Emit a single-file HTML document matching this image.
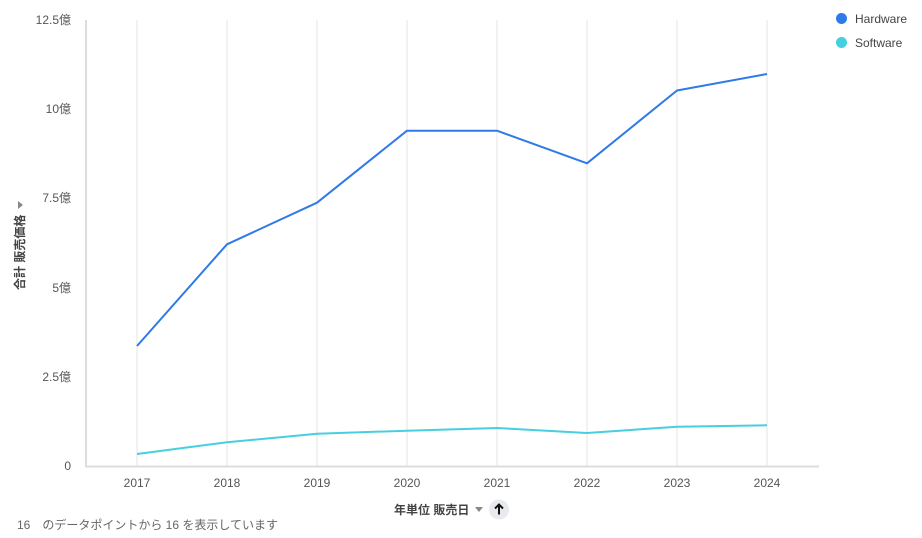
<!DOCTYPE html>
<html>
<head>
<meta charset="utf-8">
<style>
  html, body { margin: 0; padding: 0; background: #ffffff; }
  body { width: 922px; height: 538px; overflow: hidden; position: relative;
         font-family: "Liberation Sans", "Noto Sans CJK JP", sans-serif; }
  svg { position: absolute; left: 0; top: 0; }
  text { font-family: "Liberation Sans", "Noto Sans CJK JP", sans-serif; }
</style>
</head>
<body>
<svg width="922" height="538" viewBox="0 0 922 538" xmlns="http://www.w3.org/2000/svg">
  <!-- vertical gridlines -->
  <g stroke="#e4e4e4" stroke-width="1">
    <line x1="137" y1="20" x2="137" y2="466"/>
    <line x1="227" y1="20" x2="227" y2="466"/>
    <line x1="317" y1="20" x2="317" y2="466"/>
    <line x1="407" y1="20" x2="407" y2="466"/>
    <line x1="497" y1="20" x2="497" y2="466"/>
    <line x1="587" y1="20" x2="587" y2="466"/>
    <line x1="677" y1="20" x2="677" y2="466"/>
    <line x1="767" y1="20" x2="767" y2="466"/>
  </g>
  <!-- axes -->
  <line x1="86" y1="20" x2="86" y2="467" stroke="#dcdcdc" stroke-width="2"/>
  <line x1="85" y1="466.5" x2="819" y2="466.5" stroke="#dcdcdc" stroke-width="2"/>

  <!-- y tick labels -->
  <g fill="#555" font-size="12" text-anchor="end">
    <text x="71" y="24">12.5億</text>
    <text x="71" y="113">10億</text>
    <text x="71" y="202">7.5億</text>
    <text x="71" y="292">5億</text>
    <text x="71" y="381">2.5億</text>
    <text x="71" y="470">0</text>
  </g>

  <!-- x tick labels -->
  <g fill="#555" font-size="12" text-anchor="middle">
    <text x="137" y="487">2017</text>
    <text x="227" y="487">2018</text>
    <text x="317" y="487">2019</text>
    <text x="407" y="487">2020</text>
    <text x="497" y="487">2021</text>
    <text x="587" y="487">2022</text>
    <text x="677" y="487">2023</text>
    <text x="767" y="487">2024</text>
  </g>

  <!-- series -->
  <polyline fill="none" stroke="#2f7ae6" stroke-width="2" stroke-linejoin="round"
    points="137,346 227,244.3 317,202.7 407,130.7 497,130.7 587,163.3 677,90.5 767,74"/>
  <polyline fill="none" stroke="#46d0df" stroke-width="2" stroke-linejoin="round"
    points="137,454 227,442.3 317,433.7 407,430.7 497,428 587,433 677,426.7 767,425.3"/>

  <!-- y axis title -->
  <g transform="translate(24,250) rotate(-90)">
    <text x="-40" y="0" fill="#444" font-size="12" font-weight="bold">合計 販売価格</text>
    <polygon points="41,-6 49,-6 45,-1" fill="#888"/>
  </g>

  <!-- x axis title -->
  <text x="394" y="514" fill="#444" font-size="12" font-weight="bold">年単位 販売日</text>
  <polygon points="475,507 483,507 479,512" fill="#888"/>
  <circle cx="499" cy="509.5" r="10" fill="#e8eaed"/>
  <line x1="499" y1="514.5" x2="499" y2="505" stroke="#111" stroke-width="2"/>
  <polyline points="495,508.5 499,504.5 503,508.5" fill="none" stroke="#111" stroke-width="2"/>

  <!-- legend -->
  <circle cx="841.5" cy="18.5" r="5.5" fill="#2f7ae6"/>
  <text x="855" y="23" fill="#444" font-size="12">Hardware</text>
  <circle cx="841.5" cy="42.5" r="5.5" fill="#46d0df"/>
  <text x="855" y="47" fill="#444" font-size="12">Software</text>

  <!-- footer -->
  <text x="17" y="529" fill="#666" font-size="12">16　のデータポイントから 16 を表示しています</text>
</svg>
</body>
</html>
